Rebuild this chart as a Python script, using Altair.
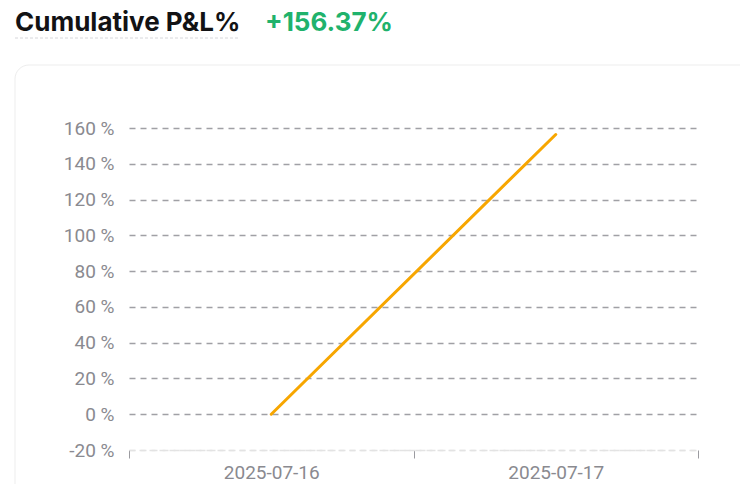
import altair as alt
import pandas as pd

dates = ["2025-07-16", "2025-07-17"]
pnl = [0, 156.37]
title_text = "Cumulative P&L%"
total_text = "+156.37%"
y_ticks = [-20, 0, 20, 40, 60, 80, 100, 120, 140, 160]

df = pd.DataFrame({"date": dates, "pnl": pnl})
one = pd.DataFrame({"a": [0]})

# plot origin on page: x=129, y=128
card = alt.Chart(one).mark_rect(
    fill="transparent", stroke="#ededed", strokeWidth=1, cornerRadius=14
).encode(x=alt.value(-114), x2=alt.value(660), y=alt.value(-63), y2=alt.value(420))

line = alt.Chart(df).mark_line(
    color="#F7A600", strokeWidth=3, strokeCap="round"
).encode(
    x=alt.X(
        "date:O",
        scale=alt.Scale(type="band", paddingInner=0, paddingOuter=0),
        bandPosition=0.5,
        axis=alt.Axis(
            title=None, labelAngle=0, tickBand="extent", tickSize=8, tickColor="#9b9ba0",
            tickWidth=1, domainColor="#e3e3e3", domainDash=[6, 4], domainWidth=1.5,
            labelPadding=5, labelFont="Roboto", labelFontSize=19, labelColor="#8a8a90",
            grid=False,
        ),
    ),
    y=alt.Y(
        "pnl:Q",
        scale=alt.Scale(domain=[-20, 160], nice=False, zero=False),
        axis=alt.Axis(
            title=None, values=y_ticks, labelExpr="datum.value + ' %'",
            domain=False, ticks=False, labelPadding=15, labelFont="Roboto",
            labelFontSize=19, labelColor="#8a8a90",
            grid=True, gridDash=[6, 5], gridWidth=1.6,
            gridColor={"condition": {"test": "datum.value === -20", "value": "#e3e3e3"},
                       "value": "#a0a0a5"},
        ),
    ),
)

title = alt.Chart(one).mark_text(
    align="left", baseline="alphabetic", font="Inter", fontSize=26,
    fontWeight="bold", color="#121214", text=title_text,
).encode(x=alt.value(-114), y=alt.value(-97))

underline = alt.Chart(one).mark_rule(
    color="#d6d6da", strokeDash=[3, 2], strokeWidth=1
).encode(x=alt.value(-114), x2=alt.value(109), y=alt.value(-90))

total = alt.Chart(one).mark_text(
    align="left", baseline="alphabetic", font="Inter", fontSize=26,
    fontWeight="bold", color="#20B26C", text=total_text,
).encode(x=alt.value(136), y=alt.value(-97))

chart = alt.layer(card, line, title, underline, total).properties(
    width=569, height=322,
    padding={"left": 121, "top": 120, "right": 42, "bottom": 34},
    autosize="none",
).configure_view(stroke=None)

chart.save("out.html", embed_options={"renderer": "svg", "actions": False})
